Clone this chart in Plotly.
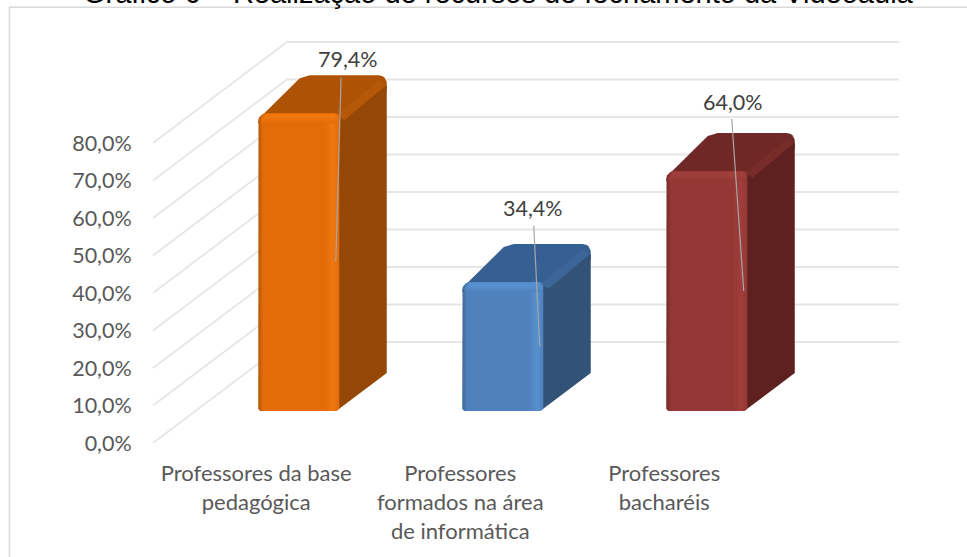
import math
import plotly.graph_objects as go

categories = ["Professores da base<br>pedagógica",
              "Professores<br>formados na área<br>de informática",
              "Professores<br>bacharéis"]
values = [79.4, 34.4, 64.0]
value_labels = ["79,4%", "34,4%", "64,0%"]
y_ticks = [0, 10, 20, 30, 40, 50, 60, 70, 80]
y_tick_labels = ["0,0%", "10,0%", "20,0%", "30,0%", "40,0%", "50,0%", "60,0%", "70,0%", "80,0%"]
title_text = "Gráfico 6 – Realização de recursos de fechamento da Videoaula"

front_colors = ["#E36C09", "#4F81BD", "#953735"]
edge_dark = ["#B0560A", "#3F6A9A", "#742C2A"]
edge_light = ["#EF770E", "#5790CF", "#A03E3B"]
side_colors = ["#954805", "#325377", "#5F2120"]
top_colors = ["#AE5305", "#376092", "#702826"]
ridge_colors = ["#B55808", "#3C6697", "#772C2A"]

W, H = 967, 557
ML, MB = 150, 114
PXX = 204.0          # pixels per category
PXY = 3.75           # pixels per percentage point
X0 = (298.75 - ML) / PXX   # centre of first category, in axis units
XMIN, XMAX = 0, (W - ML) / PXX
YMAX = (H - MB) / PXY


def px(dx):
    return dx / PXX


def py(dy):
    return dy / PXY


BAR_HALF = px(40.5)
BASE = py(32)
DX, DY = px(47.5), py(38)
WALL_DX, WALL_DY = px(134), py(101)
XL, XR = px(3), px(749)
LABEL_DX = [49, 30, 26]
LABEL_DY = [23, 28.3, 26.9]
LEADER_DX = [42.3, 31, 25]
LEADER_DY = [18, 23.5, 22.4]
TICK_SHIFT = px(-42.5)

fig = go.Figure()


def poly(xs, ys, color=None, gradient=None):
    kw = dict(fillgradient=gradient) if gradient else dict(fillcolor=color)
    fig.add_trace(go.Scatter(x=xs + xs[:1], y=ys + ys[:1], mode="lines", fill="toself",
                             line=dict(width=0), hoverinfo="skip", showlegend=False, **kw))


def arc(cx, cy, r, a0, a1, n=6):
    """Rounded corner centred on (cx, cy); the radius r is in pixels."""
    pts = [math.radians(a0 + (a1 - a0) * k / n) for k in range(n + 1)]
    return [cx + px(r * math.cos(a)) for a in pts], [cy + py(r * math.sin(a)) for a in pts]


for v in y_ticks:
    fig.add_trace(go.Scatter(x=[XL, XL + WALL_DX, XR],
                             y=[v, v + WALL_DY, v + WALL_DY],
                             mode="lines", line=dict(color="#E6E6E6", width=1.8),
                             hoverinfo="skip", showlegend=False))

for i, v in enumerate(values):
    c = X0 + i
    l, r = c - BAR_HALF, c + BAR_HALF
    b, t = BASE, BASE + v
    R = 8
    # top face
    ax, ay = arc(r + DX - px(R), t + DY - py(R), R, 90, 0)
    poly([l, l + px(3), l + DX - px(6), l + DX + px(4)] + ax + [r + DX, r + px(2), l],
         [t - py(8), t - py(3), t + DY - py(3), t + DY] + ay + [t + DY - py(16), t - py(10), t - py(10)],
         top_colors[i])
    # side face
    poly([r - px(3), r + DX, r + DX, r + px(2), r - px(3)],
         [b, b + DY, t + DY - py(R + 2), t - py(5), t - py(8)],
         side_colors[i])
    # lighter ridge between top and side
    poly([r - px(2), r + DX - px(7), r + DX - px(2), r + px(5)],
         [t - py(1), t + DY - py(5), t + DY - py(11), t - py(7)],
         ridge_colors[i])
    # front face
    lx, ly = arc(l + px(R), t - py(R), R, 180, 90)
    rx_, ry_ = arc(r - px(4), t - py(4), 4, 90, 0)
    poly([l] + lx + rx_ + [r, r - px(3), l + px(2)],
         [b + py(2)] + ly + ry_ + [b + py(2), b, b],
         gradient=dict(type="horizontal", start=l, stop=r,
                       colorscale=[[0, edge_dark[i]], [.06, front_colors[i]], [.82, front_colors[i]],
                                   [.92, edge_light[i]], [1, front_colors[i]]]))
    # highlight band along the top of the front face
    poly([l + px(3), l + px(8), r - px(6), r - px(1), r - px(1), l + px(3)],
         [t - py(6), t - py(.5), t - py(.5), t - py(5), t - py(10), t - py(10)],
         gradient=dict(type="vertical", start=t - py(10), stop=t,
                       colorscale=[[0, front_colors[i]], [.6, edge_light[i]], [1, edge_light[i]]]))
    # leader line
    fig.add_trace(go.Scatter(x=[c + px(LEADER_DX[i]), c + px(37)],
                             y=[v + LEADER_DY[i], v / 2 + py(32)],
                             mode="lines", line=dict(color="#A6A6A6", width=1.2),
                             hoverinfo="skip", showlegend=False))
    # data label
    fig.add_annotation(x=c + px(LABEL_DX[i]), y=v + LABEL_DY[i],
                       text=value_labels[i], showarrow=False, xanchor="center", yanchor="middle",
                       font=dict(family="Lato", size=21.5, color="#404040"))

fig.add_annotation(x=(498 - ML) / PXX, y=YMAX, text=title_text, showarrow=False, xanchor="center",
                   yanchor="middle", yshift=7, font=dict(family="Liberation Sans", size=29, color="#000000"))

frame = dict(type="rect", xref="paper", yref="paper", line=dict(color="#D9D9D9", width=1.5),
             x0=(9.5 - ML) / (W - ML), x1=1.05, y0=-MB / (H - MB) - .05, y1=(H - MB - 7.3) / (H - MB), layer="below")
fig.add_shape(**frame)

fig.update_xaxes(range=[XMIN, XMAX], showgrid=False, zeroline=False, showline=False,
                 tickvals=[X0 + k + TICK_SHIFT for k in range(len(categories))], ticktext=categories,
                 ticks="outside", ticklen=11, tickcolor="rgba(0,0,0,0)", tickangle=0, fixedrange=True,
                 tickfont=dict(family="Lato", size=22, color="#595959"))
fig.update_yaxes(range=[0, YMAX], tickvals=y_ticks, ticktext=y_tick_labels, showgrid=False, zeroline=False,
                 showline=False, ticks="outside", ticklen=13, tickcolor="rgba(0,0,0,0)", fixedrange=True,
                 tickfont=dict(family="Lato", size=21.5, color="#595959"))
fig.update_layout(width=W, height=H, margin=dict(l=ML, r=0, t=0, b=MB), paper_bgcolor="white",
                  plot_bgcolor="rgba(0,0,0,0)", showlegend=False)
fig.write_html("out.html", config=dict(displayModeBar=False),
               post_script="document.body.style.margin='0';document.body.style.overflow='hidden';")
